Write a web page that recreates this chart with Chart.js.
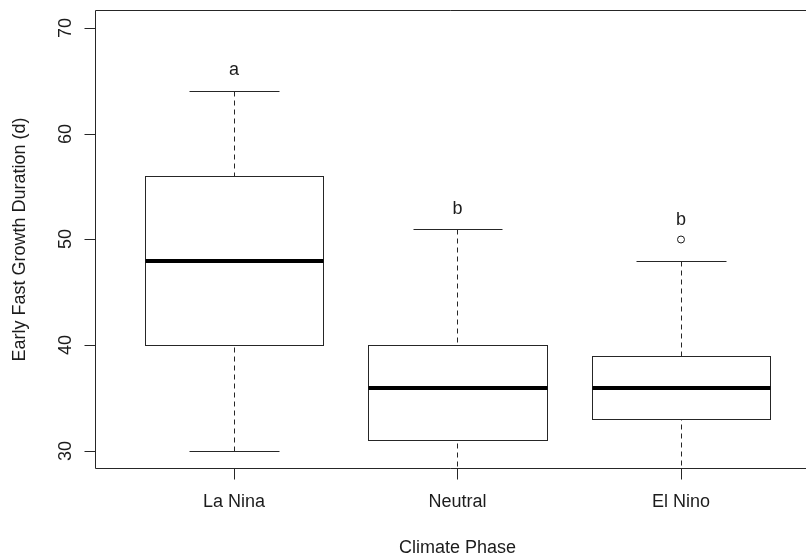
<!DOCTYPE html>
<html>
<head>
<meta charset="utf-8">
<script src="https://cdn.jsdelivr.net/npm/chart.js@4/dist/chart.umd.min.js"></script>
<style>
  html, body { margin: 0; padding: 0; background: #fff; }
  canvas { display: block; }
</style>
</head>
<body>
<canvas id="c" width="806" height="557"></canvas>
<script>
// Five-number summaries of early fast growth duration (days) per climate phase
const phases = ['La Nina', 'Neutral', 'El Nino'];
const whiskerLow = [30, 26, 27];
const lowerQuartile = [40, 31, 33];
const medians = [48, 36, 36];
const upperQuartile = [56, 40, 39];
const whiskerHigh = [64, 51, 48];

// Points beyond the whiskers
const outlierPhase = [3];
const outlierValue = [50];

// Significance letters and the value they sit at
const groupLetters = ['a', 'b', 'b'];
const letterValues = [66, 53, 52];

// Axis ticks and titles
const yTicks = [30, 40, 50, 60, 70];
const yTitle = 'Early Fast Growth Duration (d)';
const xTitle = 'Climate Phase';

const FONT = '18px "Liberation Sans", Arial, sans-serif';
const INK = '#1c1c1c';
const LINE = '#262626';
const crisp = v => Math.round(v) + 0.5;

const boxplotPlugin = {
  id: 'boxplot',
  beforeDatasetsDraw(chart) {
    const { ctx, chartArea: a, scales: { x, y } } = chart;
    ctx.save();
    ctx.beginPath();
    ctx.rect(a.left, a.top, a.right - a.left, a.bottom - a.top);
    ctx.clip();
    ctx.strokeStyle = LINE;
    ctx.lineWidth = 1;
    phases.forEach((p, i) => {
      const c = i + 1;
      const cx = crisp(x.getPixelForValue(c));
      const bl = crisp(x.getPixelForValue(c - 0.4));
      const br = crisp(x.getPixelForValue(c + 0.4));
      const sl = crisp(x.getPixelForValue(c - 0.2));
      const sr = crisp(x.getPixelForValue(c + 0.2));
      const yLo = crisp(y.getPixelForValue(whiskerLow[i]));
      const yQ1 = crisp(y.getPixelForValue(lowerQuartile[i]));
      const yMed = Math.round(y.getPixelForValue(medians[i]));
      const yQ3 = crisp(y.getPixelForValue(upperQuartile[i]));
      const yHi = crisp(y.getPixelForValue(whiskerHigh[i]));

      // dashed whiskers, drawn from the whisker end toward the box
      ctx.setLineDash([5, 4]);
      ctx.beginPath();
      ctx.moveTo(cx, yHi); ctx.lineTo(cx, yQ3);
      ctx.stroke();
      ctx.beginPath();
      ctx.moveTo(cx, yLo); ctx.lineTo(cx, yQ1);
      ctx.stroke();
      ctx.setLineDash([]);

      // staples
      ctx.beginPath();
      ctx.moveTo(sl, yHi); ctx.lineTo(sr, yHi);
      ctx.moveTo(sl, yLo); ctx.lineTo(sr, yLo);
      ctx.stroke();

      // box
      ctx.fillStyle = '#fff';
      ctx.fillRect(bl, yQ3, br - bl, yQ1 - yQ3);
      ctx.strokeRect(bl, yQ3, br - bl, yQ1 - yQ3);

      // median
      ctx.save();
      ctx.strokeStyle = '#000';
      ctx.lineWidth = 4;
      ctx.beginPath();
      ctx.moveTo(bl, yMed); ctx.lineTo(br, yMed);
      ctx.stroke();
      ctx.restore();
    });
    ctx.restore();
  }
};

const axesPlugin = {
  id: 'baseAxes',
  afterDraw(chart) {
    const { ctx, chartArea: a, scales: { x, y } } = chart;
    ctx.save();
    ctx.strokeStyle = LINE;
    ctx.lineWidth = 1;

    // plot frame (left, top, bottom)
    const L = a.left - 0.5, T = a.top - 0.5, B = a.bottom + 0.5;
    ctx.beginPath();
    ctx.moveTo(a.right, T); ctx.lineTo(L, T); ctx.lineTo(L, B); ctx.lineTo(a.right, B);
    ctx.stroke();

    ctx.font = FONT;
    ctx.fillStyle = INK;

    // y axis ticks and rotated labels
    yTicks.forEach(v => {
      const py = crisp(y.getPixelForValue(v));
      ctx.beginPath();
      ctx.moveTo(L - 11, py); ctx.lineTo(L, py);
      ctx.stroke();
      ctx.save();
      ctx.translate(71, Math.round(y.getPixelForValue(v)));
      ctx.rotate(-Math.PI / 2);
      ctx.textAlign = 'center';
      ctx.textBaseline = 'alphabetic';
      ctx.fillText(String(v), 0, 0);
      ctx.restore();
    });

    // x axis ticks and category labels
    phases.forEach((p, i) => {
      const px = crisp(x.getPixelForValue(i + 1));
      ctx.beginPath();
      ctx.moveTo(px, B); ctx.lineTo(px, B + 11);
      ctx.stroke();
      ctx.textAlign = 'center';
      ctx.textBaseline = 'alphabetic';
      ctx.fillText(p, x.getPixelForValue(i + 1), 507);
    });

    // axis titles
    ctx.textAlign = 'center';
    ctx.textBaseline = 'alphabetic';
    ctx.fillText(xTitle, x.getPixelForValue(2), 553);
    ctx.save();
    ctx.translate(25, (a.top + a.bottom) / 2);
    ctx.rotate(-Math.PI / 2);
    ctx.fillText(yTitle, 0, 0);
    ctx.restore();

    // group letters, ink centred on their value
    groupLetters.forEach((t, i) => {
      const m = ctx.measureText(t);
      const yc = y.getPixelForValue(letterValues[i]);
      ctx.fillText(t, x.getPixelForValue(i + 1), yc + m.actualBoundingBoxAscent / 2);
    });
    ctx.restore();
  }
};

new Chart(document.getElementById('c'), {
  type: 'scatter',
  data: {
    datasets: [{
      label: 'Outliers',
      data: outlierPhase.map((p, i) => ({ x: p, y: outlierValue[i] })),
      pointStyle: 'circle',
      pointRadius: 3.5,
      pointBackgroundColor: '#fff',
      pointBorderColor: '#1a1a1a',
      pointBorderWidth: 1
    }]
  },
  options: {
    responsive: false,
    devicePixelRatio: 1,
    animation: false,
    events: [],
    layout: { autoPadding: false, padding: { left: 96, top: 11, right: 0, bottom: 89 } },
    scales: {
      x: { type: 'linear', min: 0.3826, max: 3.5593, display: false },
      y: { type: 'linear', min: 28.4, max: 71.6, display: false }
    },
    plugins: { legend: { display: false }, tooltip: { enabled: false } }
  },
  plugins: [boxplotPlugin, axesPlugin]
});
</script>
</body>
</html>
